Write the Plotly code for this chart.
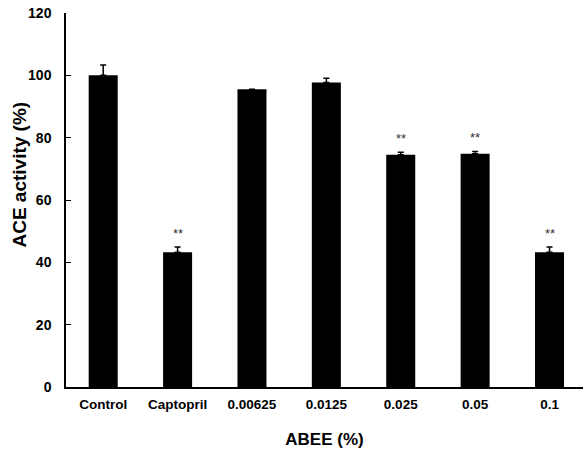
import plotly.graph_objects as go

categories = ["Control", "Captopril", "0.00625", "0.0125", "0.025", "0.05", "0.1"]
activity = [100.0, 43.2, 95.5, 97.7, 74.5, 74.8, 43.2]
error_up = [3.3, 1.7, 0.0, 1.4, 0.8, 0.8, 1.7]
significance = ["", "**", "", "", "**", "**", "**"]
y_ticks = [0, 20, 40, 60, 80, 100, 120]

fig = go.Figure()
fig.add_trace(go.Bar(
    x=categories,
    y=activity,
    width=0.39,
    marker=dict(color="black", line=dict(width=0)),
    error_y=dict(type="data", symmetric=False, array=error_up,
                 arrayminus=[0] * len(error_up),
                 color="black", thickness=1.5, width=3),
))

for i, (val, err, sig) in enumerate(zip(activity, error_up, significance)):
    if sig:
        fig.add_annotation(x=i, y=val + err, text=sig, showarrow=False,
                           yanchor="bottom", yshift=4,
                           font=dict(family="Arial, Liberation Sans", size=13, color="#333333"))

fig.add_annotation(xref="paper", yref="paper", x=-0.089, y=0.568,
                   text="<b>ACE activity (%)</b>", textangle=-90, showarrow=False,
                   xanchor="center", yanchor="middle",
                   font=dict(family="Arial, Liberation Sans", size=19, color="black"))

fig.update_layout(
    width=583, height=449,
    margin=dict(l=66, r=0, t=13, b=62),
    paper_bgcolor="white", plot_bgcolor="white",
    showlegend=False,
    font=dict(family="Arial, Liberation Sans", color="black"),
    xaxis=dict(
        type="category",
        range=[-0.5, 6.45],
        automargin=False,
        showline=True, linecolor="black", linewidth=1.5,
        ticks="", showgrid=False, zeroline=False,
        ticklabelstandoff=4,
        tickfont=dict(size=13.5, weight="bold"),
        title=dict(text="<b>ABEE (%)</b>", font=dict(size=17), standoff=22),
    ),
    yaxis=dict(
        range=[0, 120],
        automargin=False,
        tickvals=y_ticks,
        showline=True, linecolor="black", linewidth=1.5,
        ticks="inside", ticklen=5, tickcolor="black", tickwidth=1,
        showgrid=False, zeroline=False,
        ticklabelstandoff=10,
        tickfont=dict(size=14, weight="bold"),
    ),
)

fig.write_html("out.html", config={"displayModeBar": False},
               post_script="document.body.style.margin='0';")
